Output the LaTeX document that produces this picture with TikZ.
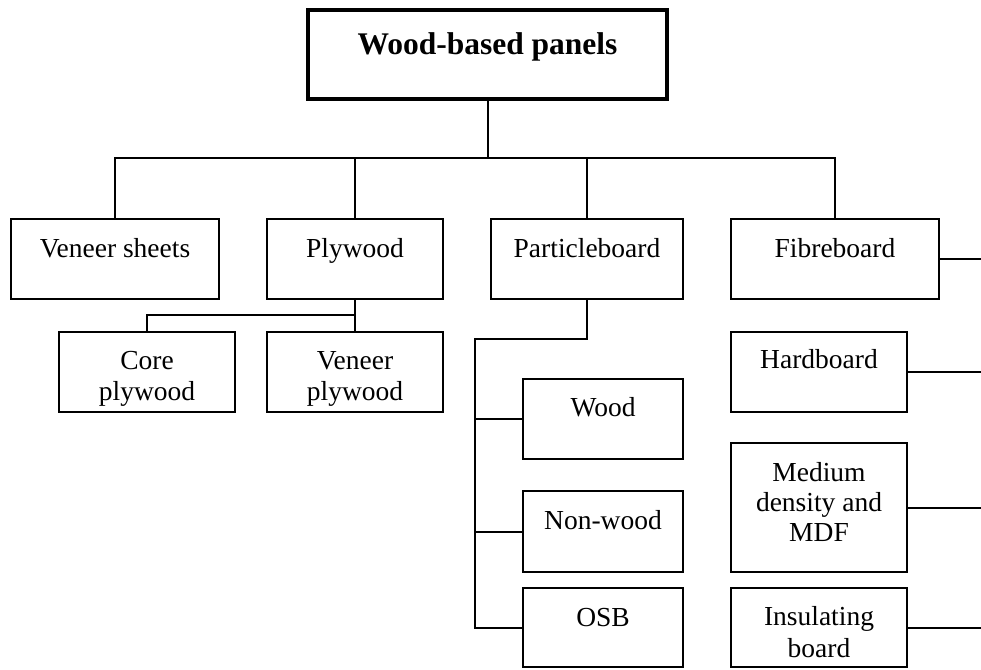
\documentclass[tikz,border=0pt]{standalone}
\usepackage{fontspec}
\setmainfont{Liberation Serif}
\begin{document}
\begin{tikzpicture}[x=1pt,y=-1pt,
  box/.style={draw, line width=1.8pt, outer sep=0pt, inner sep=0pt, anchor=north west},
  lbl/.style={inner sep=0pt, font=\fontsize{27.5}{31}\selectfont, align=center, anchor=base},
  conn/.style={line width=2pt}]
\useasboundingbox (0,0) rectangle (981,669);
% title
\node[box, line width=3.4pt, minimum width=359pt, minimum height=89pt] (top) at (308,10) {};
\node[lbl, font=\fontsize{31.5}{35}\selectfont\bfseries] (topt) at ([yshift=-44pt]top.north) {Wood-based panels};
% level 1
\node[box, minimum width=208pt, minimum height=80pt] (vs) at (11,219) {};
\node[box, minimum width=176pt, minimum height=80pt] (ply) at (267,219) {};
\node[box, minimum width=192pt, minimum height=80pt] (pb) at (491,219) {};
\node[box, minimum width=208pt, minimum height=80pt] (fb) at (731,219) {};
% plywood children
\node[box, minimum width=176pt, minimum height=80pt] (cp) at (59,332) {};
\node[box, minimum width=176pt, minimum height=80pt] (vp) at (267,332) {};
% particleboard children
\node[box, minimum width=160pt, minimum height=80pt] (wood) at (523,379) {};
\node[box, minimum width=160pt, minimum height=81pt] (nw) at (523,491) {};
\node[box, minimum width=160pt, minimum height=79pt] (osb) at (523,588) {};
% fibreboard children
\node[box, minimum width=176pt, minimum height=80pt] (hb) at (731,332) {};
\node[box, minimum width=176pt, minimum height=129pt] (md) at (731,443) {};
\node[box, minimum width=176pt, minimum height=79pt] (ins) at (731,588) {};
% labels (base anchor = baseline of last line)
\node[lbl] (vst) at ([yshift=-38pt]vs.north) {Veneer sheets};
\node[lbl] (plyt) at ([yshift=-38pt]ply.north) {Plywood};
\node[lbl] (pbt) at ([yshift=-38pt]pb.north) {Particleboard};
\node[lbl] (fbt) at ([yshift=-38pt]fb.north) {Fibreboard};
\node[lbl] (cpt) at ([yshift=-68pt]cp.north) {Core\\plywood};
\node[lbl] (vpt) at ([yshift=-68pt]vp.north) {Veneer\\plywood};
\node[lbl] (woodt) at ([yshift=-37pt]wood.north) {Wood};
\node[lbl] (nwt) at ([yshift=-38pt]nw.north) {Non-wood};
\node[lbl] (osbt) at ([yshift=-38pt]osb.north) {OSB};
\node[lbl] (hbt) at ([yshift=-36pt]hb.north) {Hardboard};
\node[lbl, font=\fontsize{27.5}{30}\selectfont] (mdt) at ([yshift=-98pt]md.north) {Medium\\density and\\MDF};
\node[lbl, font=\fontsize{27.5}{32}\selectfont] (inst) at ([yshift=-69pt]ins.north) {Insulating\\board};
% connectors
\coordinate (hub) at (487.5,158);
\coordinate (edge) at (981,0);
\coordinate (pbj) at (475,339);
\draw[conn] (top.south) -- (hub);
\draw[conn] (vs.north) -- (vs.north |- hub) -- (fb.north |- hub) -- (fb.north);
\draw[conn] (ply.north) -- (ply.north |- hub);
\draw[conn] (pb.north) -- (pb.north |- hub);
\draw[conn] (ply.south) -- (vp.north);
\draw[conn] (cp.north) |- ([yshift=-16pt]ply.south);
\draw[conn] (pb.south) |- (pbj) -- (pbj |- osb.west) -- (osb.west);
\draw[conn] (pbj |- wood.west) -- (wood.west);
\draw[conn] (pbj |- nw.west) -- (nw.west);
\draw[conn] (fb.east) -- (fb.east -| edge);
\draw[conn] (hb.east) -- (hb.east -| edge);
\draw[conn] (md.east) -- (md.east -| edge);
\draw[conn] (ins.east) -- (ins.east -| edge);
\end{tikzpicture}
\end{document}
